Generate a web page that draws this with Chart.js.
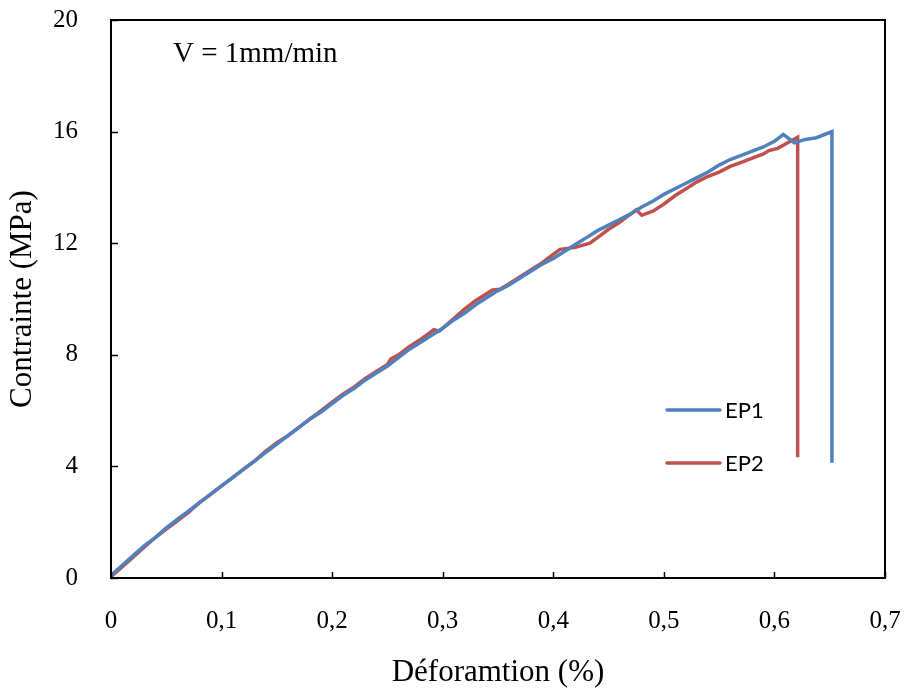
<!DOCTYPE html>
<html>
<head>
<meta charset="utf-8">
<script src="https://cdn.jsdelivr.net/npm/chart.js@4.4.1/dist/chart.umd.min.js"></script>
<style>
  html, body { margin: 0; padding: 0; background: #fff; }
  canvas { display: block; }
</style>
</head>
<body>
<canvas id="c" width="904" height="691"></canvas>
<script>
// ---- Data ----
const seriesNames = ["EP1", "EP2"];
const epsEP1 = [0,0.01,0.02,0.03,0.04,0.05,0.06,0.07,0.08,0.09,0.1,0.11,0.12,0.13,0.14,0.15,0.16,0.17,0.18,0.19,0.2,0.21,0.22,0.23,0.24,0.25,0.26,0.27,0.28,0.29,0.3,0.31,0.32,0.33,0.34,0.35,0.36,0.37,0.38,0.39,0.4,0.41,0.42,0.43,0.44,0.45,0.46,0.47,0.48,0.49,0.5,0.51,0.52,0.53,0.54,0.55,0.56,0.57,0.58,0.59,0.6,0.608,0.618,0.628,0.638,0.652,0.652];
const sigEP1 = [0.1,0.45,0.8,1.15,1.45,1.8,2.1,2.4,2.7,3.0,3.3,3.6,3.9,4.2,4.5,4.8,5.1,5.4,5.7,5.95,6.25,6.55,6.8,7.1,7.35,7.6,7.9,8.2,8.45,8.7,8.95,9.25,9.5,9.8,10.05,10.3,10.5,10.75,11.0,11.25,11.45,11.7,11.95,12.2,12.45,12.65,12.85,13.05,13.3,13.5,13.75,13.95,14.15,14.35,14.55,14.8,15.0,15.15,15.3,15.45,15.65,15.9,15.6,15.72,15.78,16.0,4.13];
const epsEP2 = [0,0.01,0.02,0.03,0.04,0.05,0.06,0.07,0.08,0.09,0.1,0.11,0.12,0.13,0.14,0.15,0.16,0.17,0.18,0.19,0.2,0.21,0.22,0.23,0.24,0.25,0.253,0.26,0.27,0.28,0.292,0.297,0.31,0.32,0.33,0.34,0.345,0.352,0.36,0.37,0.38,0.39,0.4,0.406,0.42,0.433,0.44,0.45,0.46,0.475,0.48,0.49,0.5,0.51,0.52,0.53,0.54,0.55,0.56,0.57,0.58,0.59,0.595,0.603,0.612,0.621,0.621];
const sigEP2 = [0.05,0.4,0.75,1.1,1.45,1.75,2.05,2.35,2.7,3.0,3.3,3.6,3.9,4.2,4.55,4.85,5.1,5.4,5.7,6.0,6.3,6.6,6.85,7.15,7.4,7.65,7.85,8.0,8.3,8.55,8.9,8.85,9.3,9.65,9.95,10.2,10.32,10.35,10.55,10.8,11.05,11.3,11.6,11.78,11.85,12.0,12.2,12.5,12.75,13.2,13.0,13.15,13.4,13.7,13.95,14.2,14.4,14.55,14.75,14.9,15.05,15.2,15.32,15.4,15.6,15.8,4.33];
const xTicks = [0,0.1,0.2,0.3,0.4,0.5,0.6,0.7];
const yTicks = [0,4,8,12,16,20];
const annotationText = "V = 1mm/min";
const xTitle = "Déforamtion (%)";
const yTitle = "Contrainte (MPa)";

const toPts = (xs, ys) => xs.map((x, i) => ({x: x, y: ys[i]}));
const serif = "'Liberation Serif', 'Times New Roman', serif";

const framePlugin = {
  id: 'frame',
  afterDatasetsDraw(chart) {
    const {ctx, chartArea: a, scales} = chart;
    ctx.save();
    ctx.strokeStyle = '#000';
    ctx.lineWidth = 2;
    ctx.strokeRect(a.left, a.top, a.right - a.left, a.bottom - a.top);
    ctx.lineWidth = 1.5;
    ctx.beginPath();
    xTicks.forEach(v => {
      const px = Math.round(scales.x.getPixelForValue(v)) + 0.5;
      ctx.moveTo(px, a.bottom);
      ctx.lineTo(px, a.bottom - 6);
    });
    yTicks.forEach(v => {
      const py = Math.round(scales.y.getPixelForValue(v)) + 0.5;
      ctx.moveTo(a.left, py);
      ctx.lineTo(a.left + 7, py);
    });
    ctx.stroke();
    ctx.fillStyle = '#000';
    ctx.font = "29px " + serif;
    ctx.textBaseline = 'alphabetic';
    ctx.textAlign = 'left';
    ctx.fillText(annotationText, a.left + 62, a.top + 42);
    ctx.font = "22px Lato, 'Open Sans', sans-serif";
    ctx.textBaseline = 'middle';
    chart.data.datasets.forEach((ds, i) => {
      const y = a.top + 390 + i * 53;
      ctx.strokeStyle = ds.borderColor;
      ctx.lineWidth = 3.5;
      ctx.lineCap = 'round';
      ctx.beginPath();
      ctx.moveTo(a.left + 556, y);
      ctx.lineTo(a.left + 609, y);
      ctx.stroke();
      ctx.fillStyle = '#000';
      ctx.fillText(ds.label, a.left + 614, y + 1);
    });
    ctx.restore();
  }
};

const noOverhang = s => { s.paddingTop = 0; s.paddingBottom = 0; s.paddingLeft = 0; s.paddingRight = 0; };

new Chart(document.getElementById('c'), {
  type: 'line',
  data: {
    datasets: [
      { label: seriesNames[0], data: toPts(epsEP1, sigEP1), borderColor: '#4F81BD', backgroundColor: '#4F81BD', borderWidth: 3.5, pointRadius: 0, tension: 0, fill: false },
      { label: seriesNames[1], data: toPts(epsEP2, sigEP2), borderColor: '#C0504D', backgroundColor: '#C0504D', borderWidth: 3.5, pointRadius: 0, tension: 0, fill: false }
    ]
  },
  options: {
    responsive: false,
    animation: false,
    layout: { padding: { top: 20, right: 19, left: 0, bottom: 0 } },
    plugins: { legend: { display: false }, tooltip: { enabled: false } },
    scales: {
      x: {
        type: 'linear', min: 0, max: 0.7,
        afterBuildTicks: s => { s.ticks = xTicks.map(v => ({value: v})); },
        ticks: {
          color: '#000', padding: 20, maxRotation: 0,
          font: { family: serif, size: 25 },
          callback: v => v === 0 ? '0' : v.toFixed(1).replace('.', ',')
        },
        grid: { display: false },
        border: { display: false },
        title: { display: true, text: xTitle, color: '#000', font: { family: serif, size: 31 }, padding: { top: 0, bottom: 0 } },
        afterFit: s => { s.height = 113; noOverhang(s); }
      },
      y: {
        type: 'linear', min: 0, max: 20,
        afterBuildTicks: s => { s.ticks = yTicks.map(v => ({value: v})); },
        ticks: { color: '#000', padding: 25, font: { family: serif, size: 25 } },
        grid: { display: false },
        border: { display: false },
        title: { display: true, text: yTitle, color: '#000', font: { family: serif, size: 31 }, padding: { top: 4, bottom: 0 } },
        afterFit: s => { s.width = 111; noOverhang(s); }
      }
    }
  },
  plugins: [framePlugin]
});
</script>
</body>
</html>
